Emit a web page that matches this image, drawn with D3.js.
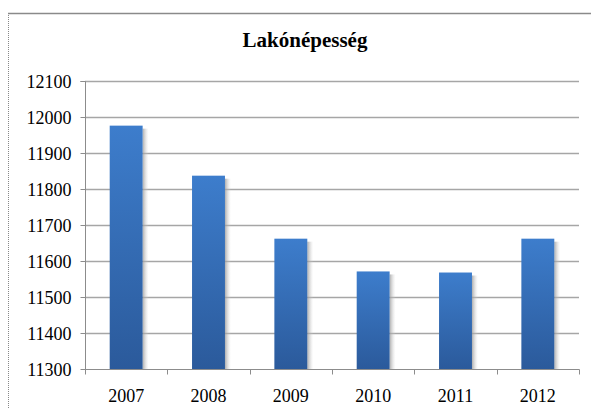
<!DOCTYPE html>
<html><head><meta charset="utf-8">
<script src="https://cdn.jsdelivr.net/npm/d3@7"></script>
<style>body{margin:0;background:#fff}svg{display:block}
.serif{font-family:"Liberation Serif","Times New Roman",Times,"DejaVu Serif",serif}</style>
</head><body>
<script>
const categories = ["2007","2008","2009","2010","2011","2012"];
const values = [11976, 11837, 11662, 11571, 11568, 11662];
const yTicks = [11300,11400,11500,11600,11700,11800,11900,12000,12100];
const title = "Lakónépesség";

const W = 591, H = 408;
const FF = '"Liberation Serif","Times New Roman",Times,serif';
const svg = d3.select("body").append("svg").attr("width", W).attr("height", H);
const defs = svg.append("defs");
const grad = defs.append("linearGradient").attr("id","barg").attr("x1",0).attr("y1",0).attr("x2",0).attr("y2",1);
grad.append("stop").attr("offset","0%").attr("stop-color","#3d7dcc");
grad.append("stop").attr("offset","100%").attr("stop-color","#2b5a9b");
const sh = defs.append("linearGradient").attr("id","shg").attr("x1",0).attr("y1",0).attr("x2",1).attr("y2",0);
sh.append("stop").attr("offset","0%").attr("stop-color","#9a9a9a").attr("stop-opacity",0.8);
sh.append("stop").attr("offset","100%").attr("stop-color","#d8d8d8").attr("stop-opacity",0);

// frame
svg.append("line").attr("x1",8).attr("x2",W).attr("y1",13.5).attr("y2",13.5).attr("stroke","#8a8a8a").attr("stroke-width",1.5);
svg.append("line").attr("x1",8.5).attr("x2",8.5).attr("y1",13).attr("y2",H).attr("stroke","#888").attr("stroke-dasharray","1,1");

const m = {left:85, right:579, top:81, bottom:369};
const x = d3.scaleBand().domain(categories).range([m.left, m.right]).paddingInner(0.6).paddingOuter(0.3);
const y = d3.scaleLinear().domain([11300,12100]).range([m.bottom, m.top]);

// gridlines
svg.append("g").selectAll("line").data(yTicks.slice(1)).join("line")
  .attr("x1", m.left).attr("x2", m.right)
  .attr("y1", d=>Math.round(y(d))+0.5).attr("y2", d=>Math.round(y(d))+0.5)
  .attr("stroke","#a6a6a6").attr("stroke-width",1.3);

// bars with shadow
const g = svg.append("g");
g.selectAll("rect.sh").data(values).join("rect").attr("class","sh")
  .attr("x",(d,i)=>x(categories[i])+x.bandwidth())
  .attr("y",d=>y(d)+3).attr("width",6).attr("height",d=>y.range()[0]-y(d)-3)
  .attr("fill","url(#shg)");
g.selectAll("rect.b").data(values).join("rect").attr("class","b")
  .attr("x",(d,i)=>x(categories[i])).attr("y",d=>y(d))
  .attr("width",x.bandwidth()).attr("height",d=>y.range()[0]-y(d))
  .attr("fill","url(#barg)");

// y axis
const ya = svg.append("g").attr("transform",`translate(${m.left+0.5},0)`)
  .call(d3.axisLeft(y).tickValues(yTicks).tickSize(5).tickPadding(9).tickFormat(d3.format("d")));
ya.attr("font-family", null).attr("font-size", null).attr("class","serif");
ya.select(".domain").attr("stroke","#8c8c8c").attr("d",`M-5,${m.top+0.5}H0V${m.bottom+0.5}`);
ya.selectAll(".tick line").attr("stroke","#8c8c8c");
ya.selectAll("text").attr("class","serif").style("font-size","18px").attr("fill","#000").attr("dy","0.35em");

// x axis
const xa = svg.append("g").attr("transform",`translate(0,${m.bottom+0.5})`);
xa.append("line").attr("x1",m.left).attr("x2",m.right+0.5).attr("stroke","#8c8c8c");
const bounds = d3.range(categories.length+1).map(i=>m.left + i*(m.right-m.left)/categories.length);
xa.selectAll("line.t").data(bounds).join("line").attr("class","t")
  .attr("x1",d=>Math.round(d)+0.5).attr("x2",d=>Math.round(d)+0.5).attr("y1",0).attr("y2",5).attr("stroke","#8c8c8c");
xa.selectAll("text").data(categories).join("text").attr("class","serif")
  .attr("x",d=>x(d)+x.bandwidth()/2).attr("y",32)
  .attr("text-anchor","middle").style("font-size","18px").text(d=>d);

// title
svg.append("text").attr("class","serif").attr("x",305).attr("y",47).attr("text-anchor","middle")
  .style("font-weight","bold").style("font-size","21px").text(title);
</script>
</body></html>
